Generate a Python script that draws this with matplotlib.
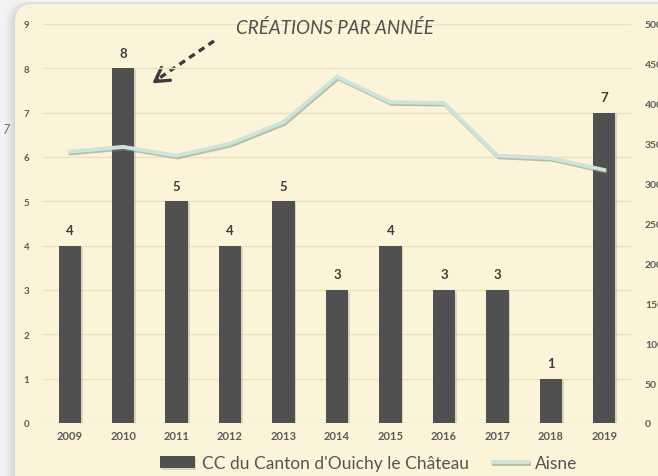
import matplotlib
matplotlib.use("Agg")
import matplotlib.pyplot as plt
import matplotlib.patheffects as pe
from matplotlib.patches import FancyBboxPatch, FancyArrowPatch
import numpy as np

years = ["2009", "2010", "2011", "2012", "2013", "2014", "2015", "2016", "2017", "2018", "2019"]
creations = [4, 8, 5, 4, 5, 3, 4, 3, 3, 1, 7]
aisne = [340, 346, 335, 350, 377, 434, 402, 401, 335, 332, 317]
left_ticks = list(range(0, 10))
right_ticks = list(range(0, 501, 50))
title = "CRÉATIONS PAR ANNÉE"
bar_label = "CC du Canton d'Ouichy le Château"
line_label = "Aisne"

plt.rcParams['font.family'] = ['Lato', 'DejaVu Sans']

W, H = 658, 477
fig = plt.figure(figsize=(W / 100, H / 100), dpi=100)
fig.patch.set_facecolor('#f3f3f3')

# background panel with soft shadow
bg = fig.add_axes([0, 0, 1, 1])
bg.set_xlim(0, W)
bg.set_ylim(H, 0)
bg.axis('off')
for i, a in enumerate([0.04, 0.05, 0.06, 0.08, 0.10]):
    off = 10 - 2 * i
    bg.add_patch(FancyBboxPatch((15 - off, 5 - off * 0.3), 700, 520,
                                boxstyle="round,pad=0,rounding_size=22",
                                fc='#9a9a9a', ec='none', alpha=a))
bg.add_patch(FancyBboxPatch((15, 5), 700, 520,
                            boxstyle="round,pad=0,rounding_size=18",
                            fc='#fcf4d8', ec='none'))
bg.text(3, 130, "7", fontsize=9, color='#707070', style='italic', ha='left', va='center')

x0, x1 = 43, 631
yb, yt = 424, 25
ax = fig.add_axes([x0 / W, 1 - yb / H, (x1 - x0) / W, (yb - yt) / H])
ax.set_facecolor('none')
x = np.arange(len(years))
ax.set_xlim(-0.5, len(years) - 0.5)
ax.set_ylim(0, 9)
ax.set_yticks(left_ticks)
ax.yaxis.grid(True, color='#ece1bf', linewidth=1)
ax.set_axisbelow(True)
for s in ax.spines.values():
    s.set_visible(False)
ax.tick_params(axis='both', length=0)
ax.tick_params(axis='y', labelsize=7, labelcolor='#5a5a5a', pad=10)
ax.tick_params(axis='x', labelsize=8, labelcolor='#5a5a5a', pad=5)
for lab in ax.get_yticklabels() + ax.get_xticklabels():
    lab.set_fontweight('bold')
ax.set_xticks(x)
ax.set_xticklabels(years)

bars = ax.bar(x, creations, width=0.42, color='#505050', label=bar_label, zorder=2,
              path_effects=[pe.SimplePatchShadow(offset=(1.2, -1.2), shadow_rgbFace='#888888', alpha=0.3), pe.Normal()])
for xi, v in zip(x, creations):
    ax.text(xi, v + 0.22, str(v), ha='center', va='bottom', fontsize=9.5,
            fontweight='bold', color='#3c3c3c')

ax2 = ax.twinx()
ax2.set_ylim(0, 500)
ax2.set_yticks(right_ticks)
for s in ax2.spines.values():
    s.set_visible(False)
ax2.tick_params(axis='y', length=0, labelsize=7.5, labelcolor='#5a5a5a', pad=10)
for lab in ax2.get_yticklabels():
    lab.set_fontweight('bold')
ln, = ax2.plot(x, aisne, color='#cfe4d8', linewidth=2.8, label=line_label, zorder=3,
               solid_joinstyle='miter',
               path_effects=[pe.SimpleLineShadow(offset=(0.8, -1.2), shadow_color='#6f8a78', alpha=0.5), pe.Normal()])

# title and dashed arrow
fig.text(335 / W, 1 - 28 / H, title, ha='center', va='center', fontsize=13.5,
         style='italic', color='#4f4f4f')
bg.plot([214, 158], [42, 80], color='#3c3c3c', linewidth=2.4,
        linestyle=(0, (2, 1.5)), solid_capstyle='butt')
head = FancyArrowPatch((160, 79), (150, 86), arrowstyle='->,head_length=6,head_width=3.5',
                       mutation_scale=1.6, color='#3c3c3c', linewidth=2.4)
bg.add_patch(head)

fig.legend([bars, ln], [bar_label, line_label], loc='center',
           bbox_to_anchor=(0.56, 1 - 464 / H), ncol=2, frameon=False,
           fontsize=12.5, labelcolor='#555555', handlelength=2.0, handletextpad=0.4,
           columnspacing=1.4)

fig.savefig('out.png', dpi=100, facecolor=fig.get_facecolor())
